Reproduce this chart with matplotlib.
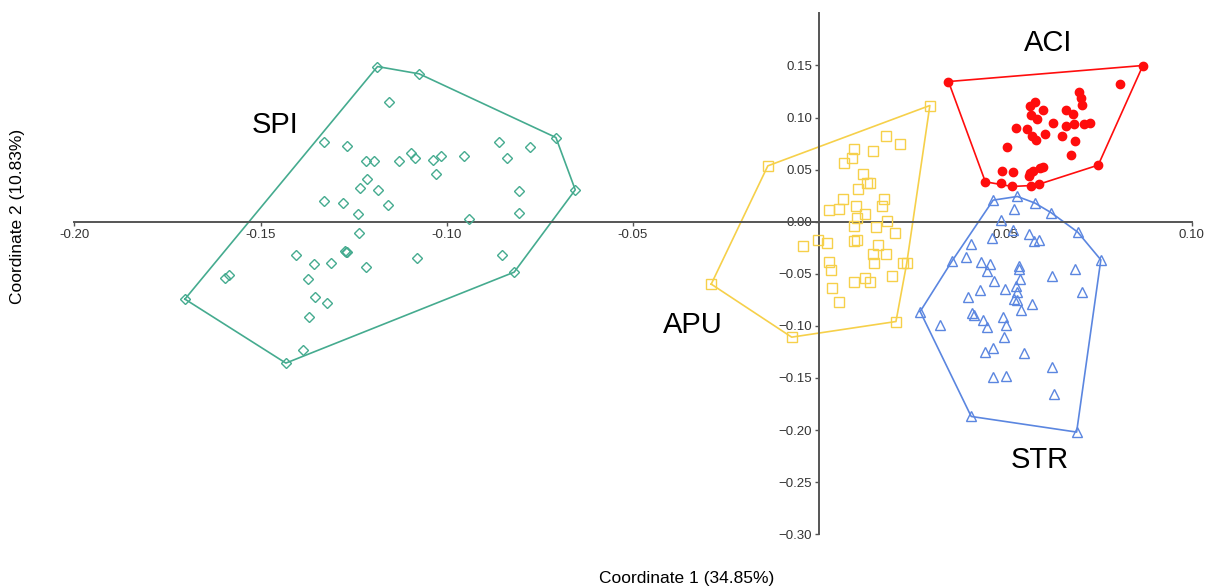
import matplotlib
matplotlib.use("Agg")
import matplotlib.pyplot as plt

plt.rcParams['font.family'] = ['Liberation Sans', 'DejaVu Sans']

# --- data (Coordinate 1, Coordinate 2) ---
spi_x = [-0.1186, -0.1074, -0.0707, -0.0655, -0.0819, -0.1432, -0.1703,
         -0.1156, -0.1330, -0.1267, -0.1218, -0.1196, -0.1127, -0.1097, -0.1085,
         -0.1037, -0.1015, -0.0953, -0.0859, -0.0837, -0.0777, -0.1030, -0.1214,
         -0.1234, -0.1184, -0.1330, -0.1278, -0.1159, -0.1239, -0.0807, -0.0807,
         -0.0941, -0.1236, -0.1271, -0.1274, -0.1268, -0.1406, -0.1356, -0.1312,
         -0.1217, -0.1079, -0.0852, -0.1596, -0.1586, -0.1373, -0.1354, -0.1321,
         -0.1371, -0.1385]
spi_y = [0.1489, 0.1419, 0.0808, 0.0306, -0.0484, -0.1357, -0.0743,
         0.1144, 0.0767, 0.0726, 0.0587, 0.0587, 0.0584, 0.0661, 0.0610,
         0.0594, 0.0630, 0.0626, 0.0764, 0.0610, 0.0716, 0.0457, 0.0412,
         0.0328, 0.0306, 0.0198, 0.0179, 0.0165, 0.0076, 0.0299, 0.0079,
         0.0025, -0.0104, -0.0289, -0.0285, -0.0293, -0.0318, -0.0407, -0.0392,
         -0.0433, -0.0344, -0.0315, -0.0536, -0.0516, -0.0551, -0.0724, -0.0778,
         -0.0910, -0.1229]

apu_x = [0.0297, -0.0138, -0.0290, -0.0074, 0.0206, 0.0235,
         0.0179, 0.0218, 0.0094, 0.0144, 0.0088, 0.0066, 0.0118, 0.0128, 0.0137,
         0.0105, 0.0064, 0.0175, 0.0168, 0.0099, 0.0027, 0.0052, 0.0124, 0.0102,
         0.0181, 0.0092, 0.0152, 0.0203, -0.0004, 0.0022, -0.0043, 0.0092, 0.0101,
         0.0158, 0.0144, 0.0179, 0.0146, 0.0027, 0.0031, 0.0195, 0.0123, 0.0136,
         0.0092, 0.0035, 0.0054, 0.0226]
apu_y = [0.1115, 0.0536, -0.0599, -0.1108, -0.0958, -0.0397,
         0.0827, 0.0745, 0.0697, 0.0678, 0.0610, 0.0568, 0.0457, 0.0376, 0.0367,
         0.0313, 0.0217, 0.0220, 0.0153, 0.0146, 0.0114, 0.0121, 0.0076, 0.0035,
         0.0009, -0.0039, -0.0052, -0.0104, -0.0174, -0.0209, -0.0231, -0.0190, -0.0180,
         -0.0222, -0.0311, -0.0311, -0.0397, -0.0388, -0.0462, -0.0519, -0.0545, -0.0574,
         -0.0583, -0.0637, -0.0772, -0.0397]

aci_x = [0.0347, 0.0869, 0.0749, 0.0591, 0.0568, 0.0518, 0.0487, 0.0446,
         0.0808, 0.0697, 0.0703, 0.0705, 0.0579, 0.0567, 0.0600, 0.0662, 0.0682,
         0.0569, 0.0584, 0.0627, 0.0663, 0.0685, 0.0710, 0.0728, 0.0529, 0.0557,
         0.0606, 0.0571, 0.0582, 0.0653, 0.0686, 0.0503, 0.0675, 0.0491, 0.0520,
         0.0566, 0.0575, 0.0593, 0.0602, 0.0562]
aci_y = [0.1345, 0.1499, 0.0543, 0.0361, 0.0347, 0.0338, 0.0370, 0.0383,
         0.1321, 0.1240, 0.1186, 0.1122, 0.1144, 0.1106, 0.1071, 0.1074, 0.1033,
         0.1026, 0.0988, 0.0946, 0.0914, 0.0933, 0.0937, 0.0946, 0.0901, 0.0889,
         0.0846, 0.0824, 0.0786, 0.0818, 0.0770, 0.0719, 0.0642, 0.0491, 0.0479,
         0.0466, 0.0491, 0.0520, 0.0524, 0.0443]

str_x = [0.0467, 0.0532, 0.0579, 0.0622, 0.0694, 0.0756, 0.0691, 0.0408, 0.0271, 0.0357,
         0.0523, 0.0489, 0.0520, 0.0463, 0.0563, 0.0577, 0.0589, 0.0408, 0.0395, 0.0435,
         0.0459, 0.0451, 0.0536, 0.0536, 0.0626, 0.0686, 0.0469, 0.0539, 0.0528, 0.0500,
         0.0432, 0.0705, 0.0530, 0.0400, 0.0524, 0.0530, 0.0572, 0.0542, 0.0410, 0.0416,
         0.0439, 0.0494, 0.0324, 0.0451, 0.0502, 0.0496, 0.0445, 0.0466, 0.0549, 0.0625,
         0.0467, 0.0502, 0.0631]
str_y = [0.0207, 0.0242, 0.0179, 0.0088, -0.0100, -0.0366, -0.2019, -0.1869, -0.0862, -0.0375,
         0.0121, 0.0015, -0.0078, -0.0157, -0.0119, -0.0183, -0.0174, -0.0212, -0.0340, -0.0385,
         -0.0407, -0.0471, -0.0423, -0.0455, -0.0519, -0.0455, -0.0567, -0.0551, -0.0615, -0.0644,
         -0.0654, -0.0673, -0.0679, -0.0724, -0.0743, -0.0750, -0.0788, -0.0846, -0.0877, -0.0900,
         -0.0941, -0.0910, -0.0996, -0.1012, -0.0989, -0.1108, -0.1251, -0.1213, -0.1261, -0.1399,
         -0.1491, -0.1479, -0.1654]

x_ticks = [-0.20, -0.15, -0.10, -0.05, 0.05, 0.10]
y_ticks = [0.15, 0.10, 0.05, 0.00, -0.05, -0.10, -0.15, -0.20, -0.25, -0.30]


def hull(xs, ys):
    pts = sorted(set(zip(xs, ys)))

    def cross(o, a, b):
        return (a[0] - o[0]) * (b[1] - o[1]) - (a[1] - o[1]) * (b[0] - o[0])

    lower, upper = [], []
    for p in pts:
        while len(lower) >= 2 and cross(lower[-2], lower[-1], p) <= 0:
            lower.pop()
        lower.append(p)
    for p in reversed(pts):
        while len(upper) >= 2 and cross(upper[-2], upper[-1], p) <= 0:
            upper.pop()
        upper.append(p)
    h = lower[:-1] + upper[:-1]
    h.append(h[0])
    return [p[0] for p in h], [p[1] for p in h]


fig = plt.figure(figsize=(12.05, 5.88), dpi=100)
ax = fig.add_axes([74.3 / 1205, 53.7 / 588, 1117.4 / 1205, 521 / 588])

groups = [
    (spi_x, spi_y, '#45ab8f', 'D', 5.5, 'none'),
    (apu_x, apu_y, '#f6d04a', 's', 7, 'none'),
    (aci_x, aci_y, '#ff0d0d', 'o', 6, '#ff0d0d'),
    (str_x, str_y, '#5b86e0', '^', 7, 'none'),
]
for gx, gy, col, mk, ms, fc in groups:
    hx, hy = hull(gx, gy)
    ax.plot(hx, hy, color=col, lw=1.2, zorder=2)
    ax.plot(gx, gy, ls='none', marker=mk, ms=ms, mfc=fc, mec=col, mew=1.0, zorder=3)

ax.text(-0.1461, 0.0930, 'SPI', fontsize=21, ha='center', va='center')
ax.text(0.0614, 0.1717, 'ACI', fontsize=21, ha='center', va='center')
ax.text(-0.0339, -0.0989, 'APU', fontsize=21, ha='center', va='center')
ax.text(0.0593, -0.2285, 'STR', fontsize=21, ha='center', va='center')

ax.set_xlim(-0.20, 0.10)
ax.set_ylim(-0.30, 0.20)
ax.spines['top'].set_visible(False)
ax.spines['right'].set_visible(False)
ax.spines['left'].set_position(('data', 0))
ax.spines['bottom'].set_position(('data', 0))
for s in ['left', 'bottom']:
    ax.spines[s].set_color('#555555')
    ax.spines[s].set_linewidth(1.4)

ax.set_xticks(x_ticks)
ax.set_xticklabels(['%.2f' % v for v in x_ticks])
ax.set_yticks(y_ticks)
ax.set_yticklabels([('%.2f' % v).replace('-', '\u2212') for v in y_ticks])
ax.tick_params(direction='out', length=3, width=1, colors='#555555',
               labelcolor='#333333', labelsize=9.5, pad=2)

fig.text(687 / 1205, 1 - 578 / 588, 'Coordinate 1 (34.85%)', fontsize=12.5,
         ha='center', va='center')
fig.text(18 / 1205, 1 - 216 / 588, 'Coordinate 2 (10.83%)', fontsize=12.5,
         ha='center', va='center', rotation=90)

fig.savefig('out.png', dpi=100)
